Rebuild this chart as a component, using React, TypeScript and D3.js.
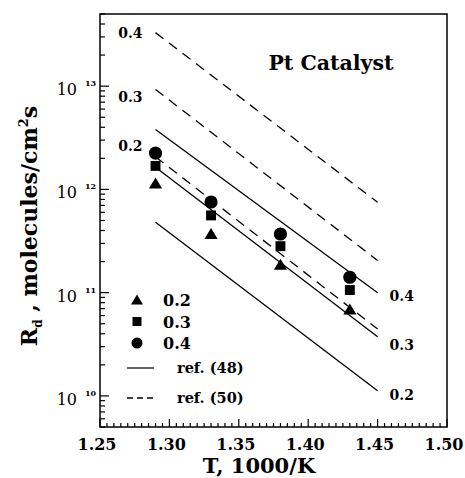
import React from "react";
import * as d3 from "d3";

const temps = [1.29, 1.33, 1.38, 1.43];
const rate02 = [1.14e12, 3.7e11, 1.86e11, 6.85e10];
const rate03 = [1.69e12, 5.6e11, 2.82e11, 1.06e11];
const rate04 = [2.25e12, 7.55e11, 3.7e11, 1.41e11];

const fitX = [1.29, 1.45];
const ref48_02 = [4.8e11, 1.12e10];
const ref48_03 = [1.64e12, 3.75e10];
const ref48_04 = [3.8e12, 1.0e11];
const ref50_02 = [2.07e12, 4.45e10];
const ref50_03 = [9.3e12, 2.05e11];
const ref50_04 = [3.3e13, 7.5e11];

const xTickLabels = ["1.25", "1.30", "1.35", "1.40", "1.45", "1.50"];
const yDecades = [10, 11, 12, 13];
const fracLabels = ["0.2", "0.3", "0.4"];

const W = 465, H = 478;
const L = 100, T = 14, R = 447, B = 427;
const FONT = "'DejaVu Serif', serif";

export default function App() {
  const x = d3.scaleLinear().domain([1.25, 1.5]).range([L, R]);
  const y = d3.scaleLog().domain([5e9, 5e13]).range([B, T]);
  const line = d3.line<[number, number]>().x(d => x(d[0])).y(d => y(d[1]));

  const solid = [ref48_02, ref48_03, ref48_04];
  const dashed = [ref50_02, ref50_03, ref50_04];
  const series = [rate02, rate03, rate04];

  const xMinor = d3.range(0, 51).map(i => 1.25 + i * 0.005);
  const yMinor: number[] = [];
  for (let e = 9; e <= 13; e++) for (let m = 1; m <= 9; m++) {
    const v = m * Math.pow(10, e);
    if (v >= 5e9 && v <= 5e13) yMinor.push(v);
  }

  const tri = (cx: number, cy: number, s: number) =>
    `M${cx},${cy - s * 0.55}L${cx + s * 0.6},${cy + s * 0.45}L${cx - s * 0.6},${cy + s * 0.45}Z`;
  const marker = (k: number, cx: number, cy: number, s: number) => {
    if (k === 0) return <path d={tri(cx, cy, s)} fill="#000" />;
    if (k === 1) return <rect x={cx - s * 0.45} y={cy - s * 0.45} width={s * 0.9} height={s * 0.9} fill="#000" />;
    return <circle cx={cx} cy={cy} r={s * 0.55} fill="#000" />;
  };

  const leftOff = [-11, 8, 0];
  const rightOff = [4, 8, 3];

  return (
    <svg width={W} height={H} style={{ position: "absolute", left: 0, top: 0, background: "#fff" }}>
      <rect x={0} y={0} width={W} height={H} fill="#fff" />
      <rect x={L} y={T} width={R - L} height={B - T} fill="none" stroke="#000" strokeWidth={1.5} />
      {xMinor.map((v, i) => (
        <line key={"xt" + i} x1={x(v)} x2={x(v)} y1={B} y2={B - (i % 10 === 0 ? 8 : 4)} stroke="#000" strokeWidth={1.2} />
      ))}
      {yMinor.map((v, i) => {
        const major = Math.abs(Math.log10(v) - Math.round(Math.log10(v))) < 1e-9;
        return <line key={"yt" + i} x1={L} x2={L + (major ? 9 : 5)} y1={y(v)} y2={y(v)} stroke="#000" strokeWidth={1.2} />;
      })}
      {xTickLabels.map((t, i) => (
        <text key={"xl" + i} x={x(+t) - 3} y={450} textAnchor="middle" fontFamily={FONT} fontSize={16} fontWeight="bold">{t}</text>
      ))}
      {yDecades.map(e => (
        <g key={"yl" + e}>
          <text x={77} y={y(Math.pow(10, e)) + 9} textAnchor="end" fontFamily={FONT} fontSize={16}>10</text>
          <text x={85} y={y(Math.pow(10, e))} fontFamily={FONT} fontSize={8} fontWeight="bold">{e}</text>
        </g>
      ))}
      <text x={259} y={473} textAnchor="middle" fontFamily={FONT} fontSize={21} fontWeight="bold">T,  1000/K</text>
      <text transform="translate(37,226) rotate(-90)" textAnchor="middle" fontFamily={FONT} fontSize={22} fontWeight="bold">
        R<tspan fontSize={12} dy={5}>d</tspan><tspan dy={-5}> ,  molecules/cm</tspan><tspan fontSize={13} dy={-9}>2</tspan><tspan dy={9}>s</tspan>
      </text>
      <text x={331} y={70} textAnchor="middle" fontFamily={FONT} fontSize={20.5} fontWeight="bold">Pt  Catalyst</text>
      {solid.map((s, i) => (
        <path key={"s" + i} d={line(fitX.map((v, j) => [v, s[j]] as [number, number])) || ""} fill="none" stroke="#000" strokeWidth={1.3} />
      ))}
      {dashed.map((s, i) => (
        <path key={"d" + i} d={line(fitX.map((v, j) => [v, s[j]] as [number, number])) || ""} fill="none" stroke="#000" strokeWidth={1.3} strokeDasharray="10,7" />
      ))}
      {dashed.map((s, i) => (
        <text key={"ll" + i} x={x(fitX[0]) - 13} y={y(s[0]) + leftOff[i] + 5} textAnchor="end" fontFamily={FONT} fontSize={14} fontWeight="bold">{fracLabels[i]}</text>
      ))}
      {solid.map((s, i) => (
        <text key={"rl" + i} x={x(fitX[1]) + 12} y={y(s[1]) + rightOff[i] + 5} fontFamily={FONT} fontSize={14} fontWeight="bold">{fracLabels[i]}</text>
      ))}
      {series.map((s, k) => s.map((v, i) => (
        <g key={"p" + k + "_" + i}>{marker(k, x(temps[i]), y(v), k === 2 ? 12 : 11)}</g>
      )))}
      {fracLabels.map((t, k) => (
        <g key={"lg" + k}>
          {marker(k, 137, 300 + k * 21.5, 10)}
          <text x={163} y={306 + k * 21.5} fontFamily={FONT} fontSize={16} fontWeight="bold">{t}</text>
        </g>
      ))}
      <line x1={127} x2={154} y1={368} y2={368} stroke="#000" strokeWidth={1.2} />
      <text x={177} y={373} fontFamily={FONT} fontSize={14.5} fontWeight="bold">ref.  (48)</text>
      <line x1={127} x2={154} y1={398} y2={398} stroke="#000" strokeWidth={1.3} strokeDasharray="6,4" />
      <text x={177} y={403} fontFamily={FONT} fontSize={14.5} fontWeight="bold">ref.  (50)</text>
    </svg>
  );
}
